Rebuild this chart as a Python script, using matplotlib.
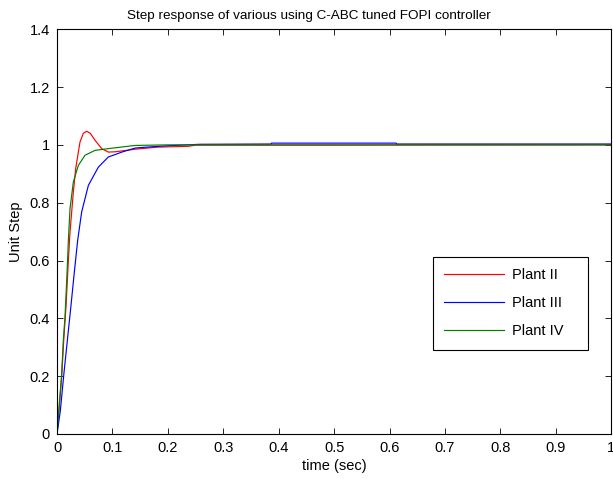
import matplotlib
matplotlib.use("Agg")
import matplotlib.pyplot as plt

plt.rcParams['font.family'] = ['Liberation Sans', 'DejaVu Sans']

# Step responses sampled at selected times (sec)
t_plant2 = [0.0, 0.004, 0.0085, 0.012, 0.0162, 0.0205, 0.0235, 0.0295, 0.0337, 0.0415, 0.0475,
            0.0535, 0.060, 0.0686, 0.0806, 0.0926, 0.1047, 0.141, 0.180, 0.237, 0.250, 0.430, 1.0]
y_plant2 = [0.0, 0.09, 0.20, 0.32, 0.44, 0.60, 0.70, 0.837, 0.918, 1.01, 1.04,
            1.047, 1.04, 1.016, 0.987, 0.975, 0.976, 0.985, 0.992, 0.995, 0.999, 0.999, 1.0]

t_plant3 = [0.0, 0.006, 0.0125, 0.019, 0.025, 0.031, 0.0373, 0.0445, 0.0566, 0.0746, 0.0926,
            0.117, 0.141, 0.168, 0.200, 0.258, 0.386, 0.387, 0.612, 0.613, 1.0]
y_plant3 = [0.0, 0.08, 0.21, 0.33, 0.44, 0.555, 0.67, 0.768, 0.86, 0.923, 0.958,
            0.975, 0.989, 0.993, 0.997, 1.002, 1.003, 1.006, 1.006, 1.003, 1.003]

t_plant4 = [0.0, 0.004, 0.0085, 0.0114, 0.0144, 0.0175, 0.0205, 0.0235, 0.0295, 0.0385, 0.0505,
            0.0686, 0.0926, 0.141, 0.200, 1.0]
y_plant4 = [0.0, 0.10, 0.21, 0.325, 0.405, 0.53, 0.67, 0.78, 0.872, 0.929, 0.964,
            0.981, 0.987, 0.998, 1.0, 1.0]

labels = ['Plant II', 'Plant III', 'Plant IV']
colors = ['#ff0000', '#0000ff', '#008000']

x_ticks = [0, 0.1, 0.2, 0.3, 0.4, 0.5, 0.6, 0.7, 0.8, 0.9, 1]
x_ticklabels = ['0', '0.1', '0.2', '0.3', '0.4', '0.5', '0.6', '0.7', '0.8', '0.9', '1']
y_ticks = [0, 0.2, 0.4, 0.6, 0.8, 1, 1.2, 1.4]
y_ticklabels = ['0', '0.2', '0.4', '0.6', '0.8', '1', '1.2', '1.4']

fig = plt.figure(figsize=(6.13, 4.79), dpi=100)
ax = fig.add_axes([0.093, 0.094, 0.904, 0.845])

for tt, yy, lab, col in zip([t_plant2, t_plant3, t_plant4],
                            [y_plant2, y_plant3, y_plant4], labels, colors):
    ax.plot(tt, yy, color=col, linewidth=0.85, label=lab)

ax.set_xlim(0, 1)
ax.set_ylim(0, 1.4)
ax.set_xticks(x_ticks)
ax.set_xticklabels(x_ticklabels)
ax.set_yticks(y_ticks)
ax.set_yticklabels(y_ticklabels)
ax.tick_params(direction='in', top=True, right=True, length=4, width=0.6,
               labelsize=10.5, pad=5)
for sp in ax.spines.values():
    sp.set_linewidth(0.8)

ax.set_xlabel('time (sec)', fontsize=10.5, labelpad=3)
ax.set_ylabel('Unit Step', fontsize=10.5, labelpad=5)
ax.set_title('Step response of various using C-ABC tuned FOPI controller',
             fontsize=9.7, pad=7, x=0.455)

leg = ax.legend(loc='upper left', bbox_to_anchor=(0.678, 0.211, 0.280, 0.227),
                mode='expand', fontsize=10.5,
                frameon=True, fancybox=False, edgecolor='black', framealpha=1,
                handlelength=4.1, borderpad=0.8, labelspacing=0.95, handletextpad=0.55,
                borderaxespad=0)
leg.get_frame().set_linewidth(0.8)

fig.savefig('out.png', dpi=100)
